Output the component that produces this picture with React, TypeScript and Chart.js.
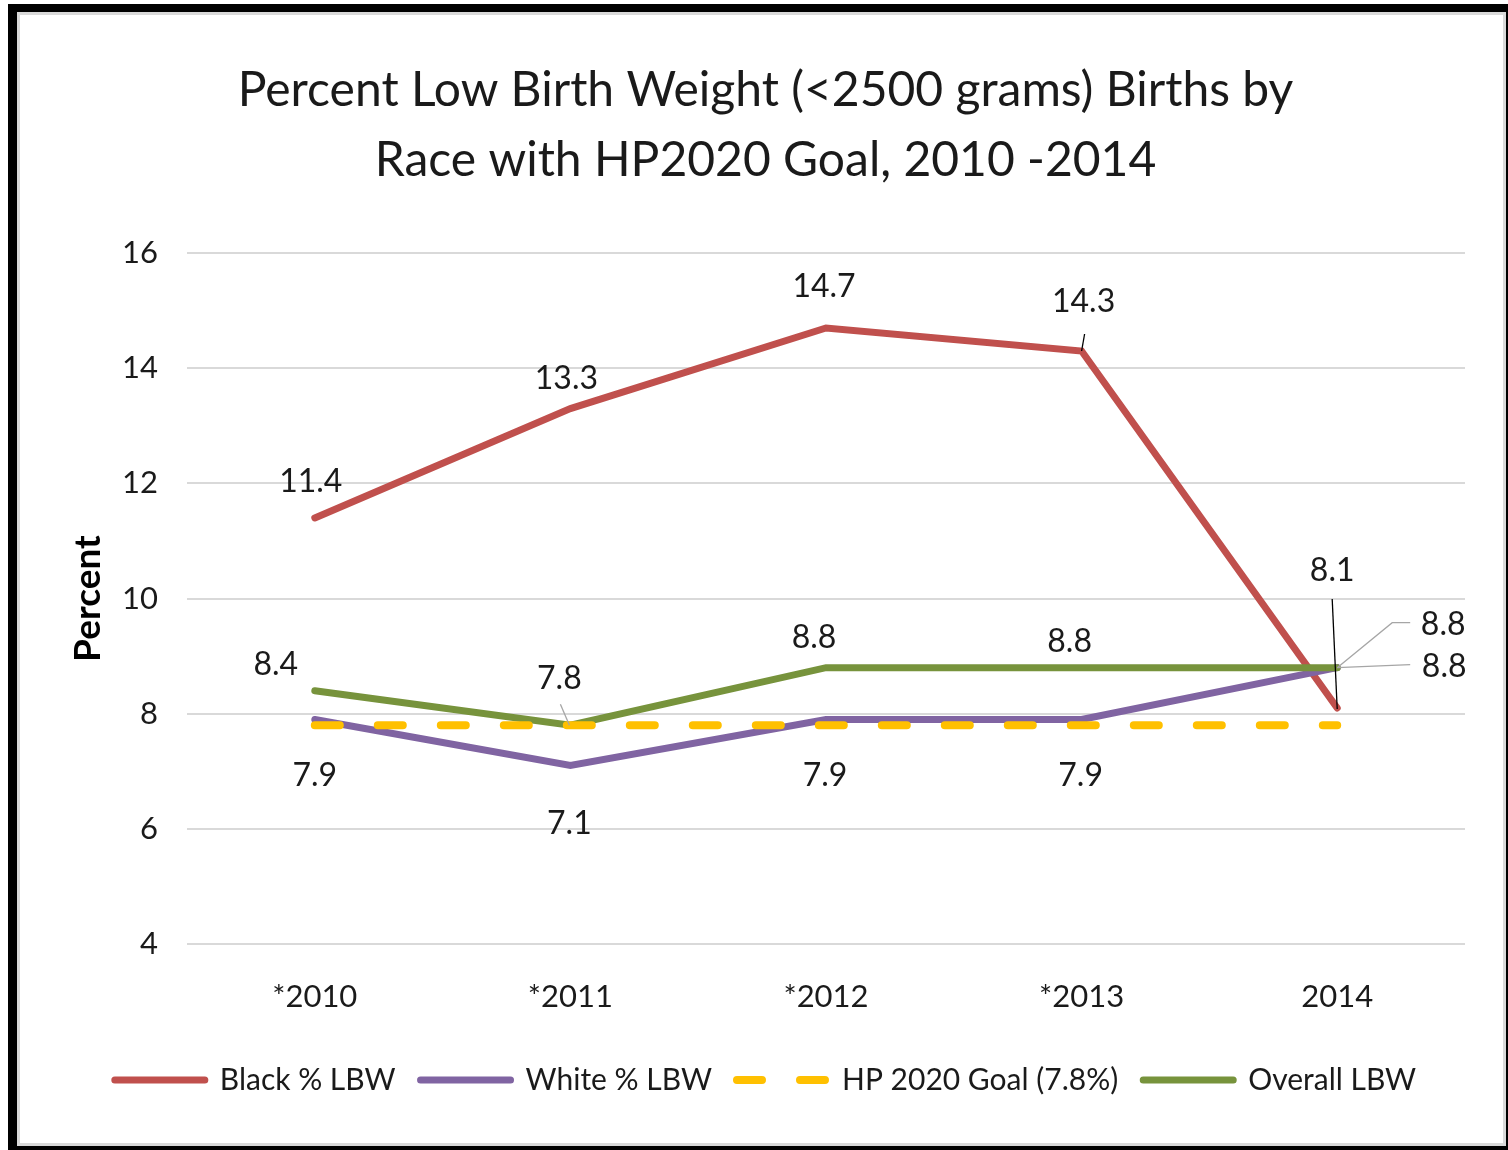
import { useEffect, useRef } from "react";
import { Chart, registerables } from "chart.js";

Chart.register(...registerables);

// ---- data ----
const categories = ["*2010", "*2011", "*2012", "*2013", "2014"];
const blackLBW = [11.4, 13.3, 14.7, 14.3, 8.1];
const whiteLBW = [7.9, 7.1, 7.9, 7.9, 8.8];
const hpGoal = [7.8, 7.8, 7.8, 7.8, 7.8];
const overallLBW = [8.4, 7.8, 8.8, 8.8, 8.8];
const yTicks = [4, 6, 8, 10, 12, 14, 16];
const titleLines = [
  "Percent Low Birth Weight (<2500 grams) Births by",
  "Race with HP2020 Goal, 2010 -2014",
];
const seriesNames = ["Black % LBW", "White % LBW", "HP 2020 Goal (7.8%)", "Overall LBW"];

// ---- styling / label placement (pixel offsets from each point) ----
const FONT = "Lato, 'Open Sans', sans-serif";
const TEXT = "#1a1a1a";

type Place = { dx: number; dy: number; leader?: number[][]; leaderColor?: string };
const blackPlaces: Place[] = [
  { dx: -4, dy: -36 },
  { dx: -4, dy: -30 },
  { dx: -2, dy: -41 },
  { dx: 2, dy: -49, leader: [[0, 0], [3, -17]], leaderColor: "#000" },
  { dx: -5, dy: -137, leader: [[0, 1], [-5, -109]], leaderColor: "#000" },
];
const whitePlaces: Place[] = [
  { dx: 0, dy: 56 },
  { dx: -1, dy: 58 },
  { dx: -1, dy: 56 },
  { dx: -1, dy: 56 },
  { dx: 106, dy: -43, leader: [[0, 0], [55, -45], [73, -45]], leaderColor: "#a6a6a6" },
];
const overallPlaces: Place[] = [
  { dx: -39, dy: -26 },
  { dx: -11, dy: -47, leader: [[-1, 0], [-10, -21]], leaderColor: "#a6a6a6" },
  { dx: -12, dy: -30 },
  { dx: -12, dy: -26 },
  { dx: 107, dy: -1, leader: [[0, 0], [73, -3]], leaderColor: "#a6a6a6" },
];

const labelPlugin = {
  id: "pointLabels",
  afterDatasetsDraw(chart: any) {
    const ctx = chart.ctx;
    chart.data.datasets.forEach((ds: any, i: number) => {
      const places: Place[] | undefined = ds.labelPlaces;
      if (!places) return;
      const meta = chart.getDatasetMeta(i);
      meta.data.forEach((pt: any, j: number) => {
        const p = places[j];
        if (!p) return;
        if (p.leader) {
          ctx.save();
          ctx.strokeStyle = p.leaderColor || "#a6a6a6";
          ctx.lineWidth = 1.3;
          ctx.beginPath();
          p.leader.forEach(([lx, ly], k) => {
            if (k === 0) ctx.moveTo(pt.x + lx, pt.y + ly);
            else ctx.lineTo(pt.x + lx, pt.y + ly);
          });
          ctx.stroke();
          ctx.restore();
        }
        ctx.save();
        ctx.font = `32px ${FONT}`;
        ctx.fillStyle = TEXT;
        ctx.textAlign = "center";
        ctx.textBaseline = "middle";
        ctx.fillText(String(ds.data[j]), pt.x + p.dx, pt.y + p.dy);
        ctx.restore();
      });
    });
  },
};

export default function App() {
  const ref = useRef<HTMLCanvasElement>(null);

  useEffect(() => {
    if (!ref.current) return;
    const chart = new Chart(ref.current, {
      type: "line",
      data: {
        labels: categories,
        datasets: [
          {
            label: seriesNames[0],
            data: blackLBW,
            borderColor: "#C0504D",
            backgroundColor: "#C0504D",
            borderWidth: 7,
            borderCapStyle: "round",
            pointRadius: 0,
            order: 4,
            labelPlaces: blackPlaces,
          } as any,
          {
            label: seriesNames[1],
            data: whiteLBW,
            borderColor: "#8064A2",
            backgroundColor: "#8064A2",
            borderWidth: 7,
            borderCapStyle: "round",
            pointRadius: 0,
            order: 3,
            labelPlaces: whitePlaces,
          } as any,
          {
            label: seriesNames[2],
            data: hpGoal,
            borderColor: "#FFC000",
            backgroundColor: "#FFC000",
            borderWidth: 8,
            borderDash: [25, 38],
            borderCapStyle: "round",
            pointRadius: 0,
            order: 1,
          } as any,
          {
            label: seriesNames[3],
            data: overallLBW,
            borderColor: "#77933C",
            backgroundColor: "#77933C",
            borderWidth: 7,
            borderCapStyle: "round",
            pointRadius: 0,
            order: 2,
            labelPlaces: overallPlaces,
          } as any,
        ],
      },
      options: {
        responsive: false,
        animation: false,
        devicePixelRatio: 1,
        layout: { padding: { left: 46, right: 38, top: 20, bottom: 38 } },
        plugins: {
          title: {
            display: true,
            text: titleLines,
            color: TEXT,
            font: { family: FONT, size: 48, weight: "normal", lineHeight: 1.47 },
            padding: { top: 20, bottom: 57 },
          },
          legend: {
            position: "bottom",
            labels: {
              usePointStyle: true,
              pointStyle: "line",
              pointStyleWidth: 90,
              padding: 25,
              color: TEXT,
              font: { family: FONT, size: 30 },
              sort: (a: any, b: any) => a.datasetIndex - b.datasetIndex,
              generateLabels: (chart: any) =>
                chart.data.datasets.map((ds: any, i: number) => ({
                  text: ds.label,
                  datasetIndex: i,
                  fillStyle: ds.borderColor,
                  strokeStyle: ds.borderColor,
                  lineWidth: ds.borderWidth,
                  lineCap: "round",
                  lineDash: ds.borderDash || [],
                  lineDashOffset: 0,
                  pointStyle: "line",
                  fontColor: TEXT,
                  hidden: false,
                })),
            },
          },
          tooltip: { enabled: false },
        },
        scales: {
          x: {
            offset: true,
            grid: { display: false },
            border: { display: false },
            ticks: { color: TEXT, font: { family: FONT, size: 31 }, padding: 26 },
            afterFit: (s: any) => {
              s.height = 96;
            },
          },
          y: {
            min: 4,
            max: 16,
            afterBuildTicks: (s: any) => {
              s.ticks = yTicks.map((v) => ({ value: v }));
            },
            grid: { color: "#d9d9d9", lineWidth: 2, drawTicks: false },
            border: { display: false },
            ticks: { color: TEXT, font: { family: FONT, size: 31 }, padding: 29 },
            title: {
              display: true,
              text: "Percent",
              color: "#000",
              font: { family: FONT, size: 37, weight: "bold" },
              padding: { top: 0, bottom: 0 },
            },
            afterFit: (s: any) => {
              s.width = 121;
            },
          },
        },
      },
      plugins: [labelPlugin],
    } as any);
    return () => chart.destroy();
  }, []);

  return (
    <div
      style={{
        position: "absolute",
        left: 8,
        top: 4,
        width: 1500,
        height: 1146,
        boxSizing: "border-box",
        borderStyle: "solid",
        borderColor: "#000",
        borderWidth: "8px 2px 4px 9px",
        background: "#fff",
      }}
    >
      <div
        style={{
          width: "100%",
          height: "100%",
          boxSizing: "border-box",
          border: "3px solid #d9d9d9",
        }}
      >
        <canvas ref={ref} width={1483} height={1128} style={{ display: "block" }} />
      </div>
    </div>
  );
}
